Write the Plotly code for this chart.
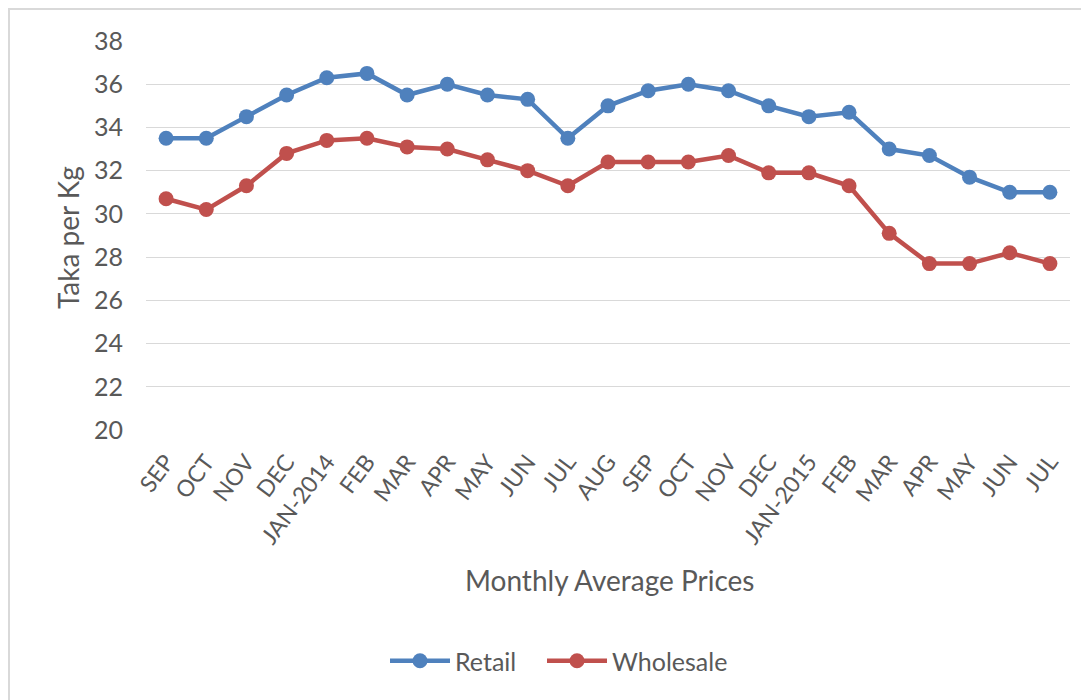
import plotly.graph_objects as go

months = ["SEP", "OCT", "NOV", "DEC", "JAN-2014", "FEB", "MAR", "APR", "MAY", "JUN", "JUL",
          "AUG", "SEP", "OCT", "NOV", "DEC", "JAN-2015", "FEB", "MAR", "APR", "MAY", "JUN", "JUL"]
retail = [33.5, 33.5, 34.5, 35.5, 36.3, 36.5, 35.5, 36.0, 35.5, 35.3, 33.5,
          35.0, 35.7, 36.0, 35.7, 35.0, 34.5, 34.7, 33.0, 32.7, 31.7, 31.0, 31.0]
wholesale = [30.7, 30.2, 31.3, 32.8, 33.4, 33.5, 33.1, 33.0, 32.5, 32.0, 31.3,
             32.4, 32.4, 32.4, 32.7, 31.9, 31.9, 31.3, 29.1, 27.7, 27.7, 28.2, 27.7]
y_ticks = [20, 22, 24, 26, 28, 30, 32, 34, 36, 38]

x_idx = list(range(len(months)))
FONT = "Lato"
TXT = "#595959"

# page has an 8px body margin; figure drawn at page offset (8, 8)
OFF = 8
W, H = 1089 - OFF, 700 - OFF
L = 146 - OFF
R = W - (1070 - OFF)
T = 41 - OFF
B = H - (430 - OFF)
pw, ph = W - L - R, H - T - B


def px(p):
    return (p - OFF - L) / pw


def py(p):
    return (H - B - (p - OFF)) / ph


fig = go.Figure()
fig.add_trace(go.Scatter(x=x_idx, y=retail, name="Retail", mode="lines+markers",
                         line=dict(color="#4F81BD", width=4.5),
                         marker=dict(color="#4F81BD", size=15), legend="legend"))
fig.add_trace(go.Scatter(x=x_idx, y=wholesale, name="Wholesale", mode="lines+markers",
                         line=dict(color="#C0504D", width=4.5),
                         marker=dict(color="#C0504D", size=15), legend="legend2"))

legend_common = dict(orientation="h", xanchor="left", y=py(661), yanchor="middle",
                     font=dict(size=25, color=TXT, family=FONT), itemwidth=60,
                     bgcolor="rgba(0,0,0,0)")

fig.update_layout(
    width=W, height=H,
    margin=dict(l=L, r=R, t=T, b=B, autoexpand=False),
    paper_bgcolor="white", plot_bgcolor="white",
    font=dict(family=FONT, color=TXT, size=20),
    showlegend=True,
    legend=dict(x=px(385), **legend_common),
    legend2=dict(x=px(542), **legend_common),
    xaxis=dict(range=[-0.5, len(months) - 0.5], tickmode="array", tickvals=x_idx,
               ticktext=months, tickangle=-53, showgrid=False, zeroline=False,
               showline=False, ticks="", ticklabelstandoff=13,
               tickfont=dict(size=23, color=TXT, family=FONT),
               automargin=False),
    yaxis=dict(range=[20, 38], tickvals=y_ticks, showgrid=True, gridcolor="#D9D9D9",
               gridwidth=1, zeroline=False, showline=False, ticks="",
               ticklabelstandoff=22, tickfont=dict(size=25, color=TXT, family=FONT),
               automargin=False),
)

# axis titles
fig.add_annotation(text="Monthly Average Prices", xref="paper", yref="paper",
                   x=px(609), y=py(580), showarrow=False,
                   font=dict(size=28, color=TXT, family=FONT), xanchor="center", yanchor="middle")
fig.add_annotation(text="Taka per Kg", xref="paper", yref="paper",
                   x=px(68), y=py(238), showarrow=False, textangle=-90,
                   font=dict(size=28, color=TXT, family=FONT), xanchor="center", yanchor="middle")

# chart border
fig.add_shape(type="rect", xref="paper", yref="paper",
              x0=px(9), x1=px(1120),
              y0=py(720), y1=py(9),
              line=dict(color="#D9D9D9", width=2), fillcolor="rgba(0,0,0,0)", layer="below")

fig.write_html("out.html")
